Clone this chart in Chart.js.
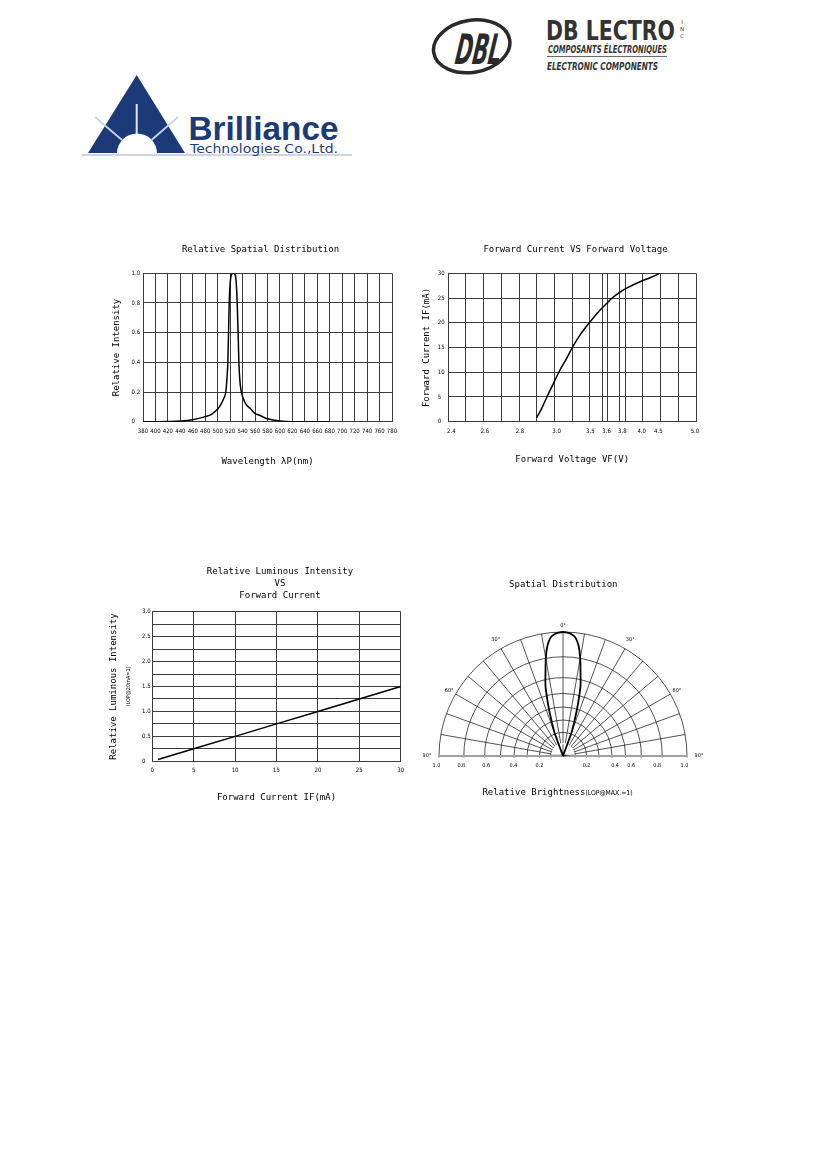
<!DOCTYPE html>
<html>
<head>
<meta charset="utf-8">
<script src="https://cdn.jsdelivr.net/npm/chart.js@4.4.1/dist/chart.umd.min.js"></script>
<style>
  html, body { margin: 0; padding: 0; background: #fff; }
  body { width: 826px; height: 1169px; position: relative; overflow: hidden; }
  canvas { position: absolute; }
  svg { position: absolute; left: 0; top: 0; }
</style>
</head>
<body>
<svg width="826" height="170" viewBox="0 0 826 170">
  <!-- Brilliance logo -->
  <polygon points="136.7,75 88,153 185,153" fill="#1c3a78"/>
  <path d="M117,153.5 A20,20 0 0 1 157,153.5 Z" fill="#ffffff"/>
  <line x1="136.7" y1="104" x2="136.7" y2="134" stroke="#dfe6f2" stroke-width="2"/>
  <line x1="95" y1="117" x2="122" y2="140" stroke="#c9d3e6" stroke-width="1.8"/>
  <line x1="178" y1="117" x2="151.5" y2="140" stroke="#c9d3e6" stroke-width="1.8"/>
  <line x1="82" y1="155" x2="352" y2="155" stroke="#bcc7dd" stroke-width="1.4"/>
  <text x="188.5" y="139.5" font-family="'Liberation Sans', Arial, sans-serif" font-weight="bold" font-size="34" fill="#1c3a78" textLength="150" lengthAdjust="spacingAndGlyphs">Brilliance</text>
  <text x="190" y="152.5" font-family="'DejaVu Sans', sans-serif" font-size="12.5" fill="#1c3a78" textLength="148" lengthAdjust="spacingAndGlyphs">Technologies Co.,Ltd.</text>
  <!-- DBL logo -->
  <ellipse cx="471.7" cy="46.3" rx="38.5" ry="26" transform="rotate(-10 471.7 46.3)" fill="none" stroke="#2a2a2a" stroke-width="3.5"/>
  <text x="455" y="64" font-family="'Liberation Sans Narrow', 'DejaVu Sans Condensed', sans-serif" font-weight="bold" font-style="italic" font-size="42" fill="#2a2a2a" textLength="46" lengthAdjust="spacingAndGlyphs" transform="skewX(-8) translate(8 0)">DBL</text>
  <text x="546" y="39.5" font-family="'DejaVu Sans Condensed', 'Liberation Sans Narrow', sans-serif" font-weight="bold" font-size="26" fill="#333" textLength="129" lengthAdjust="spacingAndGlyphs">DB LECTRO</text>
  <text x="682" y="24" font-family="'DejaVu Sans', sans-serif" font-size="5.5" fill="#444" text-anchor="middle">I</text>
  <text x="682" y="31" font-family="'DejaVu Sans', sans-serif" font-size="5.5" fill="#444" text-anchor="middle">N</text>
  <text x="682" y="38" font-family="'DejaVu Sans', sans-serif" font-size="5.5" fill="#444" text-anchor="middle">C</text>
  <text x="548" y="53" font-family="'Liberation Sans Narrow', 'DejaVu Sans Condensed', sans-serif" font-weight="bold" font-style="italic" font-size="10.5" fill="#333" textLength="119" lengthAdjust="spacingAndGlyphs">COMPOSANTS ÉLECTRONIQUES</text>
  <line x1="547" y1="56.5" x2="667" y2="56.5" stroke="#444" stroke-width="0.8"/>
  <text x="547" y="69.5" font-family="'Liberation Sans Narrow', 'DejaVu Sans Condensed', sans-serif" font-weight="bold" font-style="italic" font-size="10.5" fill="#333" textLength="111" lengthAdjust="spacingAndGlyphs">ELECTRONIC COMPONENTS</text>
</svg>

<canvas id="c1" width="321" height="240" style="left:100px;top:235px;width:321px;height:240px"></canvas>
<canvas id="c2" width="321" height="240" style="left:415px;top:235px;width:321px;height:240px"></canvas>
<canvas id="c3" width="360" height="245" style="left:100px;top:560px;width:360px;height:245px"></canvas>
<canvas id="c4" width="290" height="330" style="left:420px;top:570px;width:290px;height:330px"></canvas>

<script>
// ---------------- DATA ----------------
// Chart 1: Relative Spatial Distribution (wavelength nm -> relative intensity)
const specWavelength = [380, 400, 420, 440, 460, 480, 490, 500, 505, 510, 513, 515, 516.3, 517.4, 518.5, 520, 522, 525, 528, 530, 531.3, 532.8, 534, 536, 538, 540, 545, 552, 560, 566, 580, 600, 620, 680];
const specIntensity  = [0, 0, 0.001, 0.004, 0.013, 0.034, 0.05, 0.085, 0.115, 0.16, 0.2, 0.3, 0.4, 0.6, 0.8, 0.93, 0.99, 1.0, 0.99, 0.92, 0.8, 0.6, 0.4, 0.26, 0.2, 0.17, 0.12, 0.09, 0.055, 0.045, 0.02, 0.004, 0, 0];

// Chart 2: Forward Current vs Forward Voltage
const fvVoltage = [2.891, 2.919, 2.946, 2.983, 3.05, 3.149, 3.233, 3.346, 3.484, 3.549, 3.6, 3.663, 3.769, 3.844, 4.0, 4.25, 4.52];
const fvCurrent = [0.8, 2.7, 4.9, 7.75, 10.45, 12.8, 15.0, 17.5, 20.0, 22.2, 23.9, 24.9, 26.2, 27.0, 28.45, 29.1, 30.0];
const fvTickLabels = ['2.4', '2.6', '2.8', '3.0', '3.5', '3.6', '3.8', '4.0', '4.5', '5.0'];
const fvTickVolts  = [2.4, 2.6, 2.8, 3.0, 3.5, 3.6, 3.8, 4.0, 4.5, 5.0];
const fvTickColumns = [0.17, 2.07, 4.05, 6.12, 8.03, 8.95, 9.84, 10.93, 11.87, 13.94]; // column of the 14-column grid paper where each label sits
const fvGridColumns = [0, 1, 2, 3, 4, 5, 6, 7, 8, 8.72, 9, 9.66, 10, 11, 12, 13, 14];
const fvCurrentTicks = [0, 5, 10, 15, 20, 25, 30];

// Chart 3: Relative Luminous Intensity vs Forward Current
const lumCurrent   = [0.7, 5, 10, 15, 20, 25, 30];
const lumIntensity = [0.035, 0.25, 0.5, 0.75, 1.0, 1.25, 1.5];

// Chart 4: Spatial Distribution (angle deg -> relative brightness radius)
const polarAngles     = [-22, -20, -18, -16, -14, -12, -10, -8, -6, -4, -2, 0, 2, 4, 6, 8, 10, 12, 14, 16, 18, 20, 22];
const polarBrightness = [0, 0.2, 0.305, 0.44, 0.585, 0.68, 0.8, 0.9, 0.96, 0.985, 0.995, 1.0, 0.995, 0.985, 0.96, 0.9, 0.8, 0.68, 0.585, 0.44, 0.305, 0.2, 0];
const polarRings      = [0, 0.1, 0.19, 0.29, 0.395, 0.505, 0.632, 0.8, 1.0];
const polarAngleTicks = [-90, -60, -30, 0, 30, 60, 90];
const polarAngleText  = ['90°', '60°', '30°', '0°', '30°', '60°', '90°'];
const polarScaleText  = ['1.0', '0.8', '0.6', '0.4', '0.2', '0.2', '0.4', '0.6', '0.8', '1.0'];
const polarScaleValue = [-1.02, -0.82, -0.62, -0.40, -0.19, 0.19, 0.42, 0.55, 0.76, 0.98];

// ---------------- STYLE ----------------
const MONO = "'DejaVu Sans Mono', 'Liberation Mono', monospace";
const NARROW = "'Liberation Sans Narrow', 'DejaVu Sans Condensed', 'Liberation Sans', sans-serif";
const GRID = '#3c3c3c';
Chart.defaults.color = '#000';
Chart.defaults.font.family = NARROW;
Chart.defaults.animation = false;

const tickFont = { family: NARROW, size: 6, lineHeight: 1.2 };
const titleFont = { family: MONO, size: 9, weight: 'normal', lineHeight: 1.2 };
const fixW = w => s => { s.width = w; };
const fixH = h => s => { s.height = h; };
const numLabel = v => (Math.abs(v) < 1e-9 ? '0' : Number(v).toFixed(1));
const baseOpts = (title, pt, pb) => ({
  responsive: false, animation: false, events: [],
  layout: { padding: 0 },
  plugins: {
    legend: { display: false }, tooltip: { enabled: false },
    title: { display: true, text: title, color: '#000', font: titleFont, padding: { top: pt, bottom: pb } }
  }
});
const titleAxis = (text, width, pt, font) => ({
  type: 'linear', position: 'left', display: true,
  ticks: { display: false }, grid: { display: false, drawTicks: false }, border: { display: false },
  title: { display: true, text, color: '#000', font: font || titleFont, padding: { top: pt, bottom: 0 } },
  afterFit: fixW(width)
});
const spacerAxis = width => ({
  type: 'linear', position: 'right', display: true,
  ticks: { display: false }, grid: { display: false, drawTicks: false }, border: { display: false },
  afterFit: fixW(width)
});

// ---------------- CHART 1 ----------------
{
  const o = baseOpts('Relative Spatial Distribution', 9.1, 18.4);
  o.scales = {
    y: { type: 'linear', position: 'left', weight: 0, min: 0, max: 1,
         ticks: { stepSize: 0.2, crossAlign: 'far', font: tickFont, padding: 0, callback: numLabel, autoSkip: false },
         grid: { color: GRID, lineWidth: 1, drawTicks: false }, border: { color: GRID },
         afterFit: fixW(11.5) },
    yTitle: Object.assign(titleAxis('Relative Intensity', 31.5, 11.6), { weight: 10 }),
    yRight: spacerAxis(29),
    x: { type: 'linear', position: 'bottom', min: 380, max: 780,
         ticks: { stepSize: 20, autoSkip: false, maxRotation: 0, font: tickFont, padding: 5.7 },
         grid: { color: GRID, lineWidth: 1, drawTicks: false }, border: { color: GRID },
         title: { display: true, text: 'Wavelength λP(nm)', color: '#000', font: titleFont, padding: { top: 0, bottom: 8.2 } },
         afterFit: fixH(53.3) }
  };
  new Chart(document.getElementById('c1'), {
    type: 'scatter',
    data: { datasets: [{
      data: specWavelength.map((x, i) => ({ x, y: specIntensity[i] })),
      xAxisID: 'x', yAxisID: 'y',
      showLine: true, borderColor: '#000', borderWidth: 1.5, pointRadius: 0,
      cubicInterpolationMode: 'monotone', fill: false
    }] },
    options: o
  });
}

// ---------------- CHART 2 ----------------
function voltToColumn(v) {
  const n = fvTickVolts.length;
  for (let i = 0; i < n - 1; i++) {
    if (v <= fvTickVolts[i + 1] || i === n - 2) {
      const a = fvTickVolts[i], b = fvTickVolts[i + 1];
      return fvTickColumns[i] + (v - a) / (b - a) * (fvTickColumns[i + 1] - fvTickColumns[i]);
    }
  }
}
{
  const o = baseOpts('Forward Current VS Forward Voltage', 9.1, 18.4);
  o.scales = {
    y: { type: 'linear', position: 'left', weight: 0, min: 0, max: 30,
         afterBuildTicks: s => { s.ticks = fvCurrentTicks.map(v => ({ value: v })); },
         ticks: { crossAlign: 'far', font: tickFont, padding: 0, autoSkip: false },
         grid: { color: GRID, lineWidth: 1, drawTicks: false }, border: { color: GRID },
         afterFit: fixW(10.6) },
    yTitle: Object.assign(titleAxis('Forward Current IF(mA)', 22.7, 6.4), { weight: 10 }),
    yRight: spacerAxis(40),
    x: { type: 'linear', position: 'bottom', weight: 0, min: 0, max: 14,
         afterBuildTicks: s => { s.ticks = fvGridColumns.map(v => ({ value: v })); },
         ticks: { display: false },
         grid: { color: GRID, lineWidth: 1, drawTicks: false }, border: { color: GRID },
         afterFit: fixH(0) },
    xv: { type: 'linear', position: 'bottom', weight: 1, min: 0, max: 14,
          afterBuildTicks: s => { s.ticks = fvTickColumns.map(v => ({ value: v })); },
          ticks: { autoSkip: false, maxRotation: 0, font: tickFont, padding: 6.4,
                   callback: (v, i) => fvTickLabels[i] },
          grid: { display: false, drawTicks: false }, border: { display: false },
          title: { display: true, text: 'Forward Voltage VF(V)', color: '#000', font: titleFont, padding: { top: 0, bottom: 10.2 } },
          afterFit: fixH(53.3) }
  };
  new Chart(document.getElementById('c2'), {
    type: 'scatter',
    data: { datasets: [{
      data: fvVoltage.map((v, i) => ({ x: voltToColumn(v), y: fvCurrent[i] })),
      xAxisID: 'xv', yAxisID: 'y',
      showLine: true, borderColor: '#000', borderWidth: 1.5, pointRadius: 0,
      cubicInterpolationMode: 'monotone', fill: false
    }] },
    options: o
  });
}

// ---------------- CHART 3 ----------------
{
  const o = baseOpts(['Relative Luminous Intensity', 'VS', 'Forward Current'], 6.3, 10.3);
  o.plugins.title.font = { family: MONO, size: 9, weight: 'normal', lineHeight: 1.3 };
  o.scales = {
    y: { type: 'linear', position: 'left', weight: 0, min: 0, max: 3,
         ticks: { stepSize: 0.25, crossAlign: 'far', font: tickFont, padding: 0, autoSkip: false,
                  callback: v => (Math.round(v * 4) % 2 === 0 ? numLabel(v) : '') },
         grid: { color: GRID, lineWidth: 1, drawTicks: false }, border: { color: GRID },
         afterFit: fixW(10.3) },
    ySub: Object.assign(titleAxis('(LOP@20mA=1)', 19, 2.4, { family: NARROW, size: 5.5, lineHeight: 1.2 }), { weight: 5 }),
    yMain: Object.assign(titleAxis('Relative Luminous Intensity', 23, 8.3), { weight: 10 }),
    yRight: spacerAxis(59.3),
    x: { type: 'linear', position: 'bottom', min: 0, max: 30,
         ticks: { stepSize: 5, autoSkip: false, maxRotation: 0, font: tickFont, padding: 5.8 },
         grid: { color: GRID, lineWidth: 1, drawTicks: false }, border: { color: GRID },
         title: { display: true, text: 'Forward Current IF(mA)', color: '#000', font: titleFont, padding: { top: 0, bottom: 2.3 } },
         afterFit: fixH(43.7) }
  };
  new Chart(document.getElementById('c3'), {
    type: 'scatter',
    data: { datasets: [{
      data: lumCurrent.map((x, i) => ({ x, y: lumIntensity[i] })),
      xAxisID: 'x', yAxisID: 'y',
      showLine: true, borderColor: '#000', borderWidth: 1.5, pointRadius: 0, fill: false
    }] },
    options: o
  });
}

// ---------------- CHART 4 (polar, upper half) ----------------
{
  const STEP = 2;
  const polarLabels = Array.from({ length: 360 / STEP }, (_, i) => String(i * STEP));
  const N = polarLabels.length;
  const idxOf = a => ((a / STEP) % N + N) % N;
  const polarSeries = polarLabels.map(() => null);
  polarAngles.forEach((a, k) => { polarSeries[idxOf(a)] = polarBrightness[k]; });
  const isUpper = i => { const a = i * STEP; return a <= 90 || a >= 270; };

  const polarDecor = {
    id: 'polarDecor',
    beforeDraw(chart) {
      const s = chart.scales.r, ctx = chart.ctx;
      ctx.save();
      ctx.beginPath();
      ctx.rect(0, 0, chart.width, s.yCenter + 1.5);
      ctx.clip();
    },
    beforeDatasetsDraw(chart) {
      // spokes stop at the innermost ring, as on the reference drawing
      const s = chart.scales.r, ctx = chart.ctx;
      const r0 = s.getDistanceFromCenterForValue(polarRings[1]) - 0.7;
      ctx.save();
      ctx.beginPath();
      ctx.arc(s.xCenter, s.yCenter - 1.2, r0, Math.PI, 2 * Math.PI);
      ctx.closePath();
      ctx.fillStyle = '#fff';
      ctx.fill();
      ctx.beginPath();
      ctx.moveTo(s.xCenter, s.yCenter - r0);
      ctx.lineTo(s.xCenter, s.yCenter);
      ctx.strokeStyle = '#262626';
      ctx.lineWidth = 0.8;
      ctx.stroke();
      ctx.restore();
    },
    afterDraw(chart) {
      const s = chart.scales.r, ctx = chart.ctx;
      ctx.restore();
      ctx.save();
      ctx.fillStyle = '#000';
      ctx.font = "5.5px " + NARROW;
      ctx.textAlign = 'center';
      ctx.textBaseline = 'middle';
      polarAngleTicks.forEach((a, k) => {
        const off = { 0: 6, 30: 10.5, 60: 7.5, 90: 12 }[Math.abs(a)];
        const p = s.getPointPosition(idxOf(a), s.drawingArea + off);
        ctx.fillText(polarAngleText[k], p.x, p.y);
      });
      polarScaleValue.forEach((v, k) => {
        const d = s.getDistanceFromCenterForValue(Math.abs(v));
        ctx.fillText(polarScaleText[k], s.xCenter + Math.sign(v) * d, s.yCenter + 9.5);
      });
      const a = 'Relative Brightness', b = '(LOP@MAX.=1)';
      ctx.font = "9px " + MONO;
      const wa = ctx.measureText(a).width;
      ctx.font = "6.8px " + NARROW;
      const wb = ctx.measureText(b).width;
      const x0 = s.xCenter - 5.5 - (wa + wb) / 2, y0 = s.yCenter + 37;
      ctx.textAlign = 'left';
      ctx.font = "9px " + MONO;
      ctx.fillText(a, x0, y0);
      ctx.font = "6.8px " + NARROW;
      ctx.fillText(b, x0 + wa, y0 + 0.5);
      ctx.restore();
    }
  };

  new Chart(document.getElementById('c4'), {
    type: 'radar',
    data: { labels: polarLabels, datasets: [{
      data: polarSeries, borderColor: '#000', borderWidth: 1.8, pointRadius: 0,
      fill: false, spanGaps: false, tension: 0.15
    }] },
    options: {
      responsive: false, animation: false, events: [],
      layout: { padding: { left: 19.3, right: 22.7, top: 0, bottom: 20 } },
      plugins: {
        legend: { display: false }, tooltip: { enabled: false },
        title: { display: true, text: 'Spatial Distribution', color: '#000', font: titleFont, padding: { top: 9.6, bottom: 41.6 } }
      },
      scales: {
        r: {
          min: 0, max: 1, startAngle: 0,
          afterBuildTicks: s => { s.ticks = polarRings.map(v => ({ value: v })); },
          ticks: { display: false },
          grid: { circular: true, color: '#262626', lineWidth: 0.8 },
          angleLines: {
            display: true,
            color: c => { const a = c.index * STEP; if (!isUpper(c.index) || a % 10 !== 0) return 'rgba(0,0,0,0)'; return (a === 90 || a === 270) ? '#a0a0a0' : '#262626'; },
            lineWidth: c => { const a = c.index * STEP; return (a === 90 || a === 270) ? 2 : 0.8; }
          },
          pointLabels: { display: false }
        }
      }
    },
    plugins: [polarDecor]
  });
}
</script>
</body>
</html>
